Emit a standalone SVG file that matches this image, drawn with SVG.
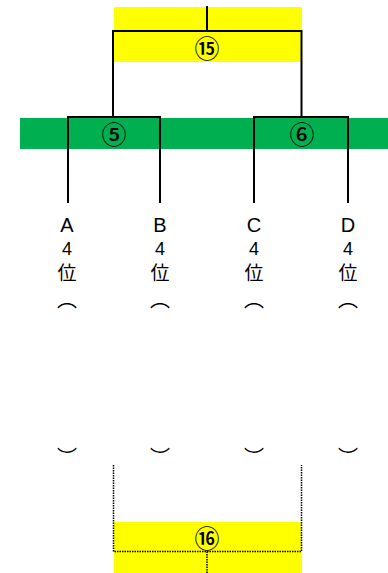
<svg xmlns="http://www.w3.org/2000/svg" width="388" height="573" viewBox="0 0 388 573">
<style>
.line{stroke:#000;stroke-width:2;fill:none}
.dot{stroke:#000;stroke-width:1.5;stroke-dasharray:1.5 1;fill:none}
.num{font-family:"Noto Sans CJK JP","DejaVu Sans",sans-serif;font-size:25px;font-weight:500;text-anchor:middle;fill:#000}
.lat{font-family:"Liberation Sans",Arial,sans-serif;text-anchor:middle;fill:#000}
.cjk{font-family:"Noto Sans CJK JP",sans-serif;text-anchor:middle;fill:#000}
</style>
<rect width="388" height="573" fill="#fff"/>
<g id="band-top"><rect x="114" y="7" width="188" height="55" fill="#ffff00"/><text class="num" x="207" y="46.5" dominant-baseline="central">⑮</text></g>
<g id="band-green"><rect x="20" y="118" width="368" height="31" fill="#00b050"/>
<text class="num" x="114" y="133" dominant-baseline="central">⑤</text>
<text class="num" x="302" y="133" dominant-baseline="central">⑥</text></g>
<g id="band-bottom"><rect x="114" y="522" width="188" height="51" fill="#ffff00"/><text class="num" x="207" y="536.5" dominant-baseline="central">⑯</text></g>
<g id="connectors">
<path class="line" d="M207 6V31M113 117V31H301.5V117"/>
<path class="line" d="M68 203V117H160V203"/>
<path class="line" d="M254 203V117H348V203"/>
<path class="dot" d="M113.5 465V551.5H301.5V465"/>
<path class="dot" d="M207 551.5V573"/>
</g>
<g id="team-a"><text class="lat" x="67" y="232" font-size="20">A</text><text class="lat" x="67" y="255" font-size="18">4</text><text class="cjk" x="67" y="280" font-size="19">位</text><text class="cjk" x="67" y="307" font-size="20">︵</text><text class="cjk" x="67" y="465" font-size="20">︶</text></g>
<g id="team-b"><text class="lat" x="160" y="232" font-size="20">B</text><text class="lat" x="160" y="255" font-size="18">4</text><text class="cjk" x="160" y="280" font-size="19">位</text><text class="cjk" x="160" y="307" font-size="20">︵</text><text class="cjk" x="160" y="465" font-size="20">︶</text></g>
<g id="team-c"><text class="lat" x="254" y="232" font-size="20">C</text><text class="lat" x="254" y="255" font-size="18">4</text><text class="cjk" x="254" y="280" font-size="19">位</text><text class="cjk" x="254" y="307" font-size="20">︵</text><text class="cjk" x="254" y="465" font-size="20">︶</text></g>
<g id="team-d"><text class="lat" x="348" y="232" font-size="20">D</text><text class="lat" x="348" y="255" font-size="18">4</text><text class="cjk" x="348" y="280" font-size="19">位</text><text class="cjk" x="348" y="307" font-size="20">︵</text><text class="cjk" x="348" y="465" font-size="20">︶</text></g>
</svg>
